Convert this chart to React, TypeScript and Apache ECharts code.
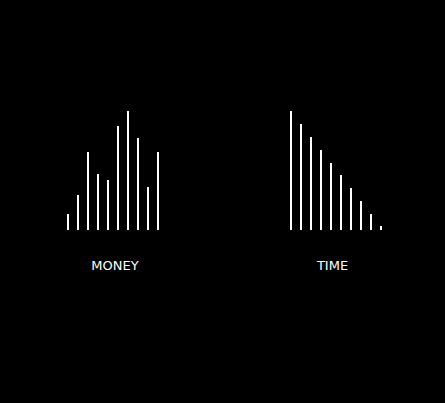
import React, { useEffect, useRef } from "react";
import * as echarts from "echarts";

const moneyCategories = ["1", "2", "3", "4", "5", "6", "7", "8", "9", "10"];
const moneyValues = [16, 35, 78, 56, 50, 104, 119, 92, 43, 78];
const timeCategories = ["1", "2", "3", "4", "5", "6", "7", "8", "9", "10"];
const timeValues = [119, 106, 93, 80, 67, 55, 42, 29, 16, 4];
const groupLabels = ["MONEY", "TIME"];

export default function App() {
  const ref = useRef<HTMLDivElement>(null);
  useEffect(() => {
    document.body.style.margin = "0";
    document.body.style.background = "#000";
    const chart = echarts.init(ref.current!, null, { renderer: "svg" });
    const font = "'Comic Sans MS', 'Humor Sans', 'DejaVu Sans', sans-serif";
    const xAxisBase = {
      type: "category" as const,
      axisLine: { show: false },
      axisTick: { show: false },
      axisLabel: { show: false },
      splitLine: { show: false },
      nameLocation: "middle" as const,
      nameGap: 29,
    };
    const yAxisBase = {
      type: "value" as const,
      min: 0,
      max: 120,
      show: false,
    };
    chart.setOption({
      animation: false,
      backgroundColor: "#000",
      grid: [
        { left: 63, width: 100, bottom: 173, height: 120 },
        { left: 286, width: 100, bottom: 173, height: 120 },
      ],
      xAxis: [
        {
          ...xAxisBase,
          gridIndex: 0,
          data: moneyCategories,
          name: groupLabels[0],
          nameTextStyle: { color: "#fff", fontSize: 13, fontFamily: font, padding: [0, 0, 0, 4] },
        },
        {
          ...xAxisBase,
          gridIndex: 1,
          data: timeCategories,
          name: groupLabels[1],
          nameTextStyle: { color: "#fff", fontSize: 13, fontFamily: font, padding: [0, 7, 0, 0] },
        },
      ],
      yAxis: [
        { ...yAxisBase, gridIndex: 0 },
        { ...yAxisBase, gridIndex: 1 },
      ],
      series: [
        {
          type: "bar",
          xAxisIndex: 0,
          yAxisIndex: 0,
          data: moneyValues,
          barWidth: 2,
          itemStyle: { color: "#fff" },
        },
        {
          type: "bar",
          xAxisIndex: 1,
          yAxisIndex: 1,
          data: timeValues,
          barWidth: 2,
          itemStyle: { color: "#fff" },
        },
      ],
    });
    return () => chart.dispose();
  }, []);
  return <div ref={ref} style={{ width: 445, height: 403, background: "#000" }} />;
}
